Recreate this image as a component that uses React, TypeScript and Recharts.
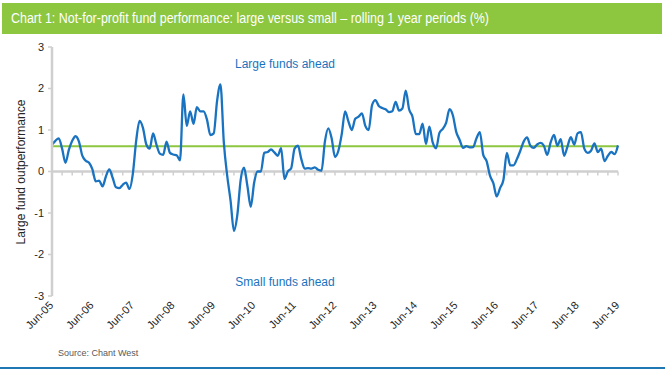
import React from 'react';
import { LineChart, Line, XAxis, YAxis, ReferenceLine } from 'recharts';

// Monthly categories from Jun-05 to Jun-19
const MONTH_NAMES = ['Jan', 'Feb', 'Mar', 'Apr', 'May', 'Jun', 'Jul', 'Aug', 'Sep', 'Oct', 'Nov', 'Dec'];
const START_YEAR = 2005;
const START_MONTH_INDEX = 5; // June

// Large fund outperformance (%), rolling 1 year periods, monthly
const outperformance = [
  0.65, 0.74, 0.80, 0.55, 0.21, 0.52, 0.74, 0.85, 0.72, 0.38,
  0.26, 0.21, 0.05, -0.24, -0.22, -0.36, -0.12, 0.05, -0.15, -0.38,
  -0.40, -0.32, -0.27, -0.42, -0.05, 0.75, 1.22, 1.05, 0.65, 0.55,
  0.92, 0.65, 0.43, 0.40, 0.72, 0.45, 0.41, 0.39, 0.27, 1.86,
  1.10, 1.45, 1.15, 1.55, 1.45, 1.45, 1.25, 0.88, 0.92, 1.70,
  2.10, 0.70, -0.10, -0.70, -1.43, -1.05, -0.20, 0.09, -0.35, -0.85,
  -0.27, 0.00, 0.00, 0.45, 0.47, 0.53, 0.46, 0.38, 0.56, -0.18,
  0.00, 0.08, 0.55, 0.62, 0.30, 0.07, 0.08, 0.07, 0.10, 0.04,
  0.02, 0.72, 1.04, 0.80, 0.35, 0.50, 0.90, 1.45, 1.20, 1.00,
  1.27, 1.32, 1.40, 1.10, 1.00, 1.60, 1.72, 1.58, 1.53, 1.50,
  1.43, 1.45, 1.68, 1.47, 1.52, 1.95, 1.50, 1.32, 0.90, 0.90,
  1.15, 0.66, 1.08, 0.70, 0.56, 0.93, 1.03, 1.18, 1.50, 1.35,
  0.95, 0.76, 0.57, 0.61, 0.58, 0.59, 0.80, 0.95, 0.40, 0.25,
  -0.10, -0.28, -0.60, -0.40, -0.20, 0.45, 0.15, 0.15, 0.30, 0.50,
  0.72, 0.82, 0.62, 0.57, 0.65, 0.69, 0.62, 0.40, 0.70, 0.88,
  0.62, 0.78, 0.38, 0.60, 0.83, 0.65, 0.92, 0.95, 0.55, 0.45,
  0.50, 0.68, 0.47, 0.55, 0.25, 0.38, 0.47, 0.42, 0.63,
];

const AVERAGE_OUTPERFORMANCE = 0.61;
const Y_TICKS = [-3, -2, -1, 0, 1, 2, 3];

const TITLE = 'Chart 1:  Not-for-profit fund performance: large versus small \u2013 rolling 1 year periods (%)';
const Y_LABEL = 'Large fund outperformance';
const TOP_NOTE = 'Large funds ahead';
const BOTTOM_NOTE = 'Small funds ahead';
const SOURCE = 'Source:  Chant West';

const data = outperformance.map((value, i) => {
  const m = START_MONTH_INDEX + i;
  const yr = START_YEAR + Math.floor(m / 12);
  return {
    month: `${MONTH_NAMES[m % 12]}-${String(yr % 100).padStart(2, '0')}`,
    value,
  };
});

const FONT = '"Liberation Sans", Arial, Helvetica, sans-serif';
const BLUE = '#1a73c0';
const GREEN = '#8dc63f';
const GREY = '#cfcfcf';
const TEXT = '#262626';

const XTick = (props: any) => {
  const { x, y, payload } = props;
  return (
    <g transform={`translate(${x + 2},${y + 10})`}>
      <text textAnchor="end" transform="rotate(-45)" fontSize={11} fill={TEXT} fontFamily={FONT}>
        {payload.value}
      </text>
    </g>
  );
};

const ZeroLine = (props: any) => {
  const { x1, y1, x2, y2 } = props;
  if (x1 == null || y1 == null) return null;
  const n = (data.length - 1) / 3;
  const ticks = [];
  for (let k = 0; k <= n; k++) {
    const x = x1 + ((x2 - x1) * k) / n;
    ticks.push(<line key={k} x1={x} y1={y1} x2={x} y2={y1 + 4} stroke={GREY} strokeWidth={1.5} />);
  }
  return (
    <g>
      <line x1={x1} y1={y1} x2={x2} y2={y2} stroke={GREY} strokeWidth={2.5} />
      {ticks}
    </g>
  );
};

export default function App() {
  return (
    <div style={{ position: 'fixed', left: 0, top: 0, width: 665, height: 374, background: '#fff', overflow: 'hidden' }}>
      <svg width={665} height={374} style={{ position: 'absolute', left: 0, top: 0 }}>
        <rect x={2} y={3} width={660} height={31} fill={GREEN} />
        <text
          x={11}
          y={23}
          fill="#fff"
          fontSize={14}
          fontFamily='"Liberation Sans Narrow", "Arial Narrow", "Liberation Sans", Arial, sans-serif'
          textLength={478}
          lengthAdjust="spacingAndGlyphs"
        >
          {TITLE}
        </text>
        <text
          x={21}
          y={172}
          transform="rotate(-90 21 172)"
          textAnchor="middle"
          dominantBaseline="central"
          fontSize={12}
          fill={TEXT}
          fontFamily={FONT}
        >
          {Y_LABEL}
        </text>
        <text x={285} y={68} textAnchor="middle" fontSize={12} fill={BLUE} fontFamily={FONT}>
          {TOP_NOTE}
        </text>
        <text x={285} y={286} textAnchor="middle" fontSize={12} fill={BLUE} fontFamily={FONT}>
          {BOTTOM_NOTE}
        </text>
        <text x={58} y={356} fontSize={9} fill="#595959" fontFamily={FONT}>
          {SOURCE}
        </text>
        <rect x={0} y={367} width={665} height={2} fill="#1f78b4" />
      </svg>
      <div style={{ position: 'absolute', left: 0, top: 0 }}>
        <LineChart width={665} height={374} data={data} margin={{ top: 47, right: 47, bottom: 38, left: 0 }}>
          <XAxis
            dataKey="month"
            interval={11}
            tickLine={false}
            axisLine={false}
            tickSize={0}
            tickMargin={0}
            height={40}
            tick={<XTick />}
          />
          <YAxis
            type="number"
            domain={[-3, 3]}
            ticks={Y_TICKS}
            width={52}
            axisLine={{ stroke: GREY, strokeWidth: 2.5 }}
            tickLine={{ stroke: GREY, strokeWidth: 1.5 }}
            tickSize={4}
            tickMargin={4}
            tick={{ fontSize: 11, fill: TEXT, fontFamily: FONT }}
          />
          <ReferenceLine y={0} shape={<ZeroLine />} />
          <ReferenceLine y={AVERAGE_OUTPERFORMANCE} stroke={GREEN} strokeWidth={2} />
          <Line
            type="monotone"
            dataKey="value"
            stroke={BLUE}
            strokeWidth={2.3}
            dot={false}
            isAnimationActive={false}
          />
        </LineChart>
      </div>
    </div>
  );
}
